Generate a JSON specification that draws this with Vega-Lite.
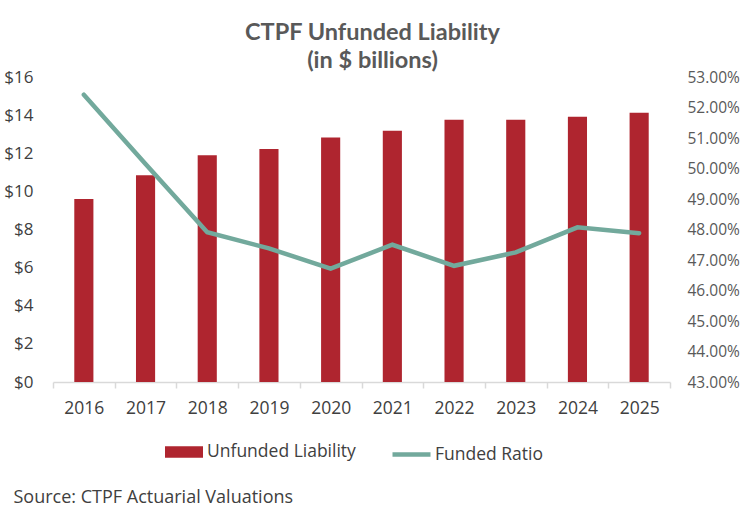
{
  "$schema": "https://vega.github.io/schema/vega-lite/v6.json",
  "width": 617,
  "height": 305,
  "autosize": {"type": "none"},
  "padding": {"left": 53, "top": 77, "right": 74, "bottom": 135},
  "background": "white",
  "config": {
    "view": {"stroke": null},
    "font": "Open Sans",
    "axis": {"labelFont": "Open Sans", "labelFontSize": 17, "labelColor": "#404040", "grid": false},
    "legend": {"labelFont": "Open Sans", "labelFontSize": 17.5, "labelColor": "#404040", "padding": 0, "title": null}
  },
  "title": {
    "text": ["CTPF Unfunded Liability", "(in $ billions)"],
    "font": "Lato",
    "fontSize": 23.5,
    "fontWeight": "bold",
    "color": "#595959",
    "anchor": "middle",
    "dx": 11,
    "dy": 10,
    "offset": 6,
    "lineHeight": 28
  },
  "data": {
    "values": [
      {"year": "2016", "liability": 9.6, "ratio": 0.5242},
      {"year": "2017", "liability": 10.85, "ratio": 0.5015},
      {"year": "2018", "liability": 11.9, "ratio": 0.4791},
      {"year": "2019", "liability": 12.22, "ratio": 0.4738},
      {"year": "2020", "liability": 12.82, "ratio": 0.4672},
      {"year": "2021", "liability": 13.18, "ratio": 0.475},
      {"year": "2022", "liability": 13.76, "ratio": 0.4681},
      {"year": "2023", "liability": 13.76, "ratio": 0.4725},
      {"year": "2024", "liability": 13.92, "ratio": 0.4807},
      {"year": "2025", "liability": 14.12, "ratio": 0.4788}
    ]
  },
  "encoding": {
    "x": {
      "field": "year",
      "type": "ordinal",
      "scale": {"paddingInner": 0, "paddingOuter": 0},
      "axis": {
        "labelAngle": 0,
        "labelFontSize": 17.5,
        "tickBand": "extent",
        "domainColor": "#D9D9D9",
        "domainWidth": 1.5,
        "tickColor": "#D9D9D9",
        "tickWidth": 1.5,
        "tickSize": 6,
        "labelPadding": 11,
        "title": "Source: CTPF Actuarial Valuations",
        "titleFont": "Open Sans",
        "titleFontSize": 18,
        "titleFontWeight": "normal",
        "titleColor": "#404040",
        "titleAnchor": "start",
        "titleAlign": "left",
        "titleBaseline": "middle",
        "titleX": -40,
        "titleY": 115
      }
    }
  },
  "layer": [
    {
      "mark": {"type": "bar", "width": {"band": 0.31}},
      "encoding": {
        "y": {
          "field": "liability",
          "type": "quantitative",
          "scale": {"domain": [0, 16], "nice": false},
          "axis": {
            "values": [0, 2, 4, 6, 8, 10, 12, 14, 16],
            "format": "$.0f",
            "domain": false,
            "ticks": false,
            "labelPadding": 20,
            "title": null
          }
        },
        "color": {
          "datum": "Unfunded Liability",
          "scale": {"range": ["#AF252F"]},
          "legend": {
            "orient": "none",
            "legendX": 112,
            "legendY": 356,
            "symbolType": "M-1,-0.3H1V0.3H-1Z",
            "symbolSize": 1444,
            "symbolStrokeWidth": 0,
            "labelOffset": 4
          }
        }
      }
    },
    {
      "mark": {"type": "line", "strokeWidth": 4.5, "strokeCap": "round"},
      "encoding": {
        "y": {
          "field": "ratio",
          "type": "quantitative",
          "scale": {"domain": [0.43, 0.53], "nice": false, "zero": false},
          "axis": {
            "orient": "right",
            "values": [0.43, 0.44, 0.45, 0.46, 0.47, 0.48, 0.49, 0.5, 0.51, 0.52, 0.53],
            "format": ".2%",
            "domain": false,
            "ticks": false,
            "labelPadding": 17,
            "labelFontSize": 15.5,
            "labelColor": "#595959",
            "title": null
          }
        },
        "color": {
          "datum": "Funded Ratio",
          "scale": {"range": ["#72A99C"]},
          "legend": {
            "orient": "none",
            "legendX": 337,
            "legendY": 356,
            "symbolType": "stroke",
            "symbolSize": 1444,
            "symbolStrokeWidth": 4.5,
            "labelOffset": 2
          }
        }
      }
    }
  ],
  "resolve": {"scale": {"y": "independent", "color": "independent"}}
}
